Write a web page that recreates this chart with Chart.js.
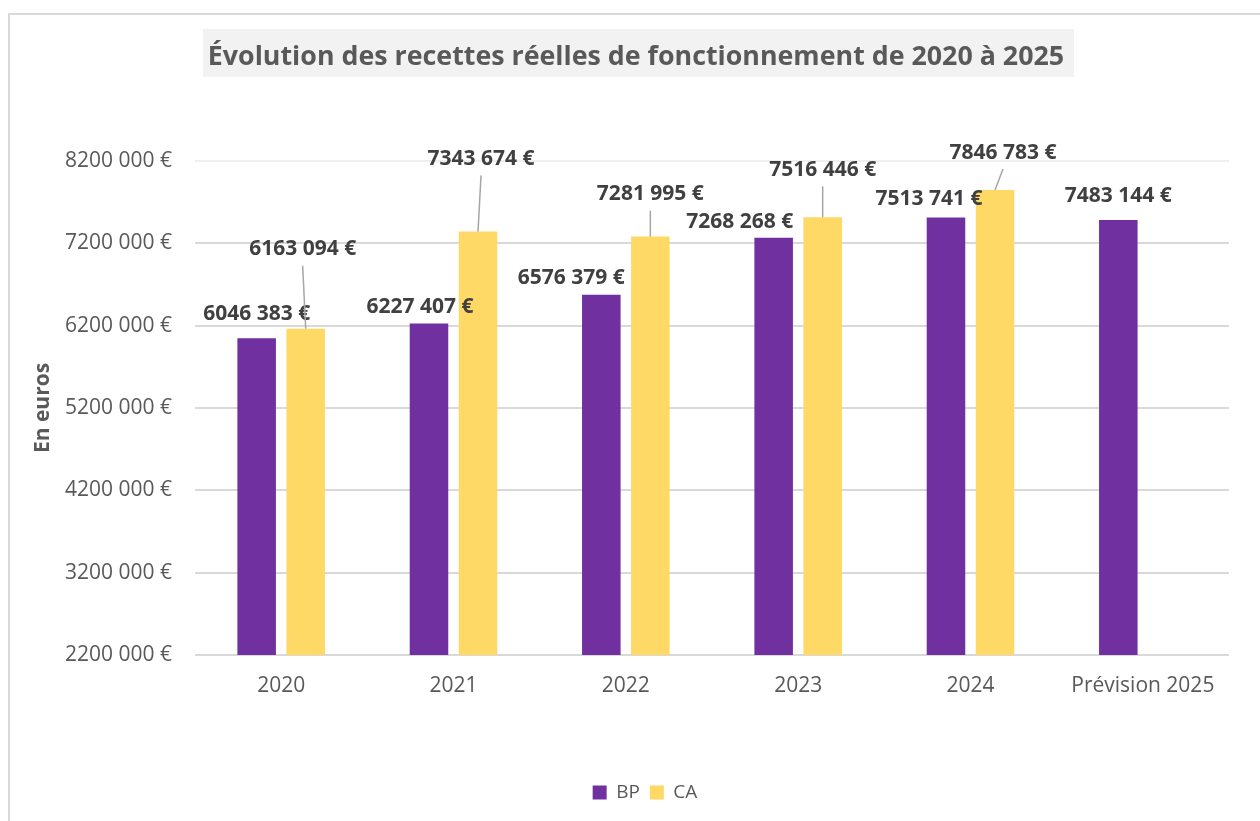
<!DOCTYPE html>
<html>
<head>
<meta charset="utf-8">
<script src="https://cdn.jsdelivr.net/npm/chart.js@4.4.1/dist/chart.umd.min.js"></script>
<style>
  html, body { margin: 0; padding: 0; background: #fff; }
</style>
</head>
<body>
<canvas id="chart" width="1260" height="821"></canvas>
<script>
const title = 'Évolution des recettes réelles de fonctionnement de 2020 à 2025';
const yTitle = 'En euros';
const categories = ['2020', '2021', '2022', '2023', '2024', 'Prévision 2025'];
const bpValues = [6046383, 6227407, 6576379, 7268268, 7513741, 7483144];
const caValues = [6163094, 7343674, 7281995, 7516446, 7846783, null];
const yMin = 2200000;
const yMax = 8200000;
const yStep = 1000000;

// where each value label sits, relative to the top centre of its bar (px)
const bpLabelShift = [[0, -26], [-9, -18], [-30, -18], [-34, -17], [-17, -20], [0, -26]];
const caLabelShift = [[-3, -81], [3, -74], [0, -44], [0, -49], [8, -39], null];

const grey = '#595959';
Chart.defaults.font.family = '"Open Sans", sans-serif';

// "8200 000 €" style, as in the sheet
const euro = v => `${Math.floor(v / 1000)} ${String(v % 1000).padStart(3, '0')} €`;

const decor = {
  id: 'decor',
  beforeDraw(chart) {
    const { ctx, chartArea } = chart;
    ctx.save();
    // frame of the chart object
    ctx.strokeStyle = '#d9d9d9';
    ctx.lineWidth = 2;
    ctx.beginPath();
    ctx.moveTo(9, 830);
    ctx.lineTo(9, 14);
    ctx.lineTo(1270, 14);
    ctx.stroke();

    // title with its grey band
    ctx.fillStyle = '#f2f2f2';
    ctx.fillRect(203, 29, 871, 48);
    ctx.font = 'bold 28px "Liberation Sans Narrow", "Open Sans", sans-serif';
    const w = ctx.measureText(title).width;
    const size = 28 * 858 / w;
    ctx.font = `bold ${size.toFixed(1)}px "Liberation Sans Narrow", "Open Sans", sans-serif`;
    ctx.fillStyle = grey;
    ctx.textAlign = 'center';
    ctx.textBaseline = 'alphabetic';
    ctx.fillText(title, 636, 65);

    // vertical axis title
    ctx.translate(49, (chartArea.top + chartArea.bottom) / 2);
    ctx.rotate(-Math.PI / 2);
    ctx.font = 'bold 21px "Open Sans", sans-serif';
    ctx.fillText(yTitle, 0, 0);
    ctx.restore();
  },
  afterDatasetsDraw(chart) {
    const { ctx } = chart;
    ctx.save();
    ctx.font = 'bold 21px "Open Sans", sans-serif';
    ctx.textAlign = 'center';
    ctx.textBaseline = 'alphabetic';
    const shifts = [bpLabelShift, caLabelShift];
    chart.data.datasets.forEach((ds, di) => {
      chart.getDatasetMeta(di).data.forEach((bar, i) => {
        if (ds.data[i] == null) return;
        const [dx, dy] = shifts[di][i];
        const lx = bar.x + dx;
        const ly = bar.y + dy;
        if (di === 1) {
          ctx.strokeStyle = '#a6a6a6';
          ctx.lineWidth = 1.5;
          ctx.beginPath();
          ctx.moveTo(lx, ly + 18);
          ctx.lineTo(bar.x, bar.y);
          ctx.stroke();
        }
        ctx.fillStyle = '#404040';
        ctx.fillText(euro(ds.data[i]), lx, ly + 7.5);
      });
    });
    ctx.restore();
  }
};

new Chart(document.getElementById('chart'), {
  type: 'bar',
  data: {
    labels: categories,
    datasets: [
      { label: 'BP', data: bpValues, backgroundColor: '#7030a0', categoryPercentage: 0.569, barPercentage: 0.786 },
      { label: 'CA', data: caValues, backgroundColor: '#ffd966', categoryPercentage: 0.569, barPercentage: 0.786 },
    ],
  },
  options: {
    responsive: false,
    animation: false,
    devicePixelRatio: 1,
    layout: { padding: { left: 61, right: 31, top: 161, bottom: 9 } },
    plugins: {
      title: { display: false },
      tooltip: { enabled: false },
      legend: {
        position: 'bottom',
        labels: { boxWidth: 14, boxHeight: 14, padding: 10, color: grey, font: { size: 19 } },
      },
    },
    scales: {
      x: {
        grid: { display: false },
        border: { display: false },
        ticks: { color: grey, font: { size: 21 }, padding: 10 },
        afterFit: s => { s.height = 118; },
      },
      y: {
        min: yMin,
        max: yMax,
        ticks: { stepSize: yStep, callback: euro, color: grey, font: { size: 21 }, padding: 23 },
        grid: {
          color: c => c.tick && c.tick.value === yMax ? '#efefef' : '#d9d9d9',
          lineWidth: 2,
          drawTicks: false,
        },
        border: { display: false },
        afterFit: s => { s.width = 134; },
      },
    },
  },
  plugins: [decor],
});
</script>
</body>
</html>
